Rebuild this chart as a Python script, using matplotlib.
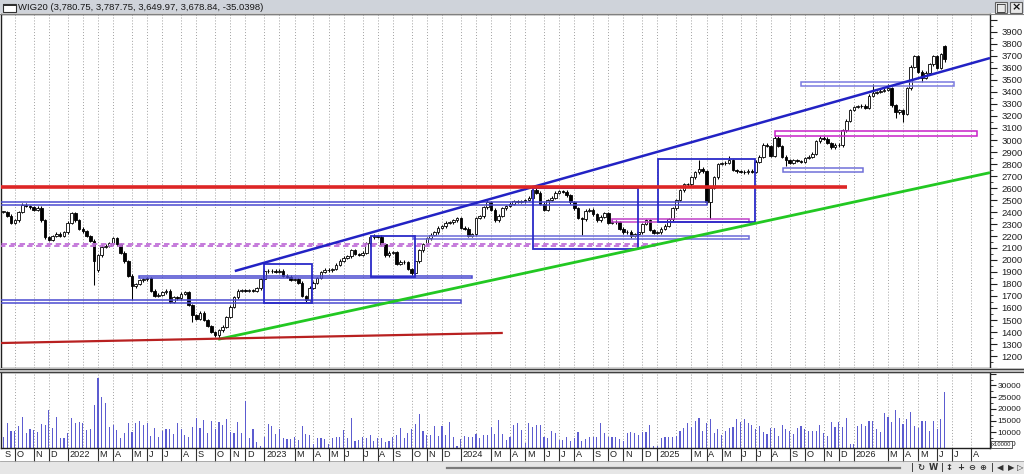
import matplotlib
matplotlib.use("Agg")
import matplotlib.pyplot as plt
import matplotlib.transforms as mtransforms
from matplotlib.patches import Rectangle
from matplotlib.lines import Line2D
from matplotlib.ticker import MultipleLocator, FuncFormatter
import numpy as np
import pandas as pd

plt.rcParams['font.family'] = ['Liberation Sans', 'DejaVu Sans']

# ---------------- data ----------------
symbol = "WIG20"
last_open, last_high, last_low, last_close, last_change = 3780.75, 3787.75, 3649.97, 3678.84, -35.0398
start_week = "2021-09-06"
end_month = "2026-08"

closes = [
    2400, 2370, 2310, 2330, 2400, 2460, 2450, 2440, 2420, 2435,
    2330, 2190, 2170, 2200, 2220, 2200, 2230, 2310, 2390, 2330,
    2260, 2240, 2200, 2160, 1990, 2040, 2110, 2120, 2140, 2180,
    2130, 2060, 1990, 1870, 1780, 1800, 1830, 1840, 1850, 1745,
    1700, 1710, 1730, 1745, 1650, 1690, 1680, 1720, 1730, 1625,
    1540, 1510, 1560, 1500, 1450, 1400, 1375, 1415, 1445, 1525,
    1610, 1690, 1745, 1750, 1745, 1750, 1745, 1765, 1840, 1910,
    1905, 1910, 1900, 1910, 1870, 1860, 1835, 1840, 1810, 1700,
    1670, 1770, 1810, 1850, 1900, 1920, 1915, 1925, 1960, 1995,
    2020, 2030, 2080, 2050, 2045, 2060, 2140, 2190, 2200, 2195,
    2130, 2040, 2060, 2065, 1970, 1985, 1980, 1925, 1890, 1990,
    2080, 2130, 2180, 2210, 2230, 2270, 2280, 2310, 2315, 2330,
    2350, 2270, 2260, 2200, 2215, 2350, 2365, 2440, 2480, 2420,
    2330, 2370, 2430, 2450, 2470, 2490, 2485, 2490, 2500, 2520,
    2580, 2560, 2470, 2420, 2500, 2520, 2560, 2575, 2570, 2540,
    2480, 2430, 2350, 2340, 2410, 2420, 2380, 2330, 2360, 2390,
    2310, 2320, 2315, 2260, 2230, 2235, 2200, 2215, 2230, 2300,
    2330, 2250, 2225, 2230, 2260, 2285, 2340, 2430, 2500, 2580,
    2630, 2630, 2690, 2730, 2760, 2740, 2480, 2600, 2690, 2800,
    2805, 2810, 2830, 2750, 2740, 2735, 2730, 2745, 2735, 2820,
    2860, 2960, 2950, 2870, 3020, 2950, 2860, 2830, 2810, 2830,
    2825, 2820, 2850, 2860, 2885, 2990, 3020, 3010, 2975, 2940,
    2960, 2955, 3080, 3160, 3250, 3275, 3280, 3285, 3270, 3370,
    3395, 3400, 3410, 3420, 3430, 3290, 3230, 3250, 3220, 3430,
    3610, 3700, 3570, 3520, 3560, 3630, 3700, 3600, 3714, last_close,
]
open_override = {25: 1920, 249: last_open}
high_override = {98: 2220, 128: 2500, 141: 2610, 184: 2830, 192: 2870,
                 230: 3470, 234: 3470, 249: last_high}
low_override = {24: 1790, 25: 1900, 34: 1670, 50: 1480, 52: 1500, 56: 1355,
                57: 1350, 80: 1650, 108: 1870, 153: 2210, 166: 2180, 187: 2345,
                207: 2780, 236: 3180, 238: 3150, 243: 3480, 249: last_low}

volumes_k = [
    7.8, 13.8, 10.7, 10.5, 12.6, 16.6, 9.8, 11.3, 11.0, 10.3,
    13.5, 12.9, 19.5, 12.0, 16.6, 7.5, 7.4, 9.8, 16.2, 14.0,
    14.3, 14.0, 11.0, 11.3, 21.6, 33.0, 24.9, 22.3, 12.4, 12.9,
    11.0, 7.7, 9.8, 14.0, 10.3, 14.0, 14.6, 13.3, 14.0, 8.5,
    11.9, 7.8, 10.5, 11.3, 11.4, 9.3, 13.8, 11.5, 8.8, 8.1,
    12.4, 16.2, 11.7, 15.2, 9.5, 14.8, 11.4, 14.2, 13.0, 15.8,
    10.3, 9.5, 14.2, 9.5, 23.5, 7.7, 11.4, 6.0, 4.2, 7.8,
    13.5, 12.6, 9.3, 11.3, 7.5, 7.1, 7.1, 8.2, 6.6, 12.6,
    9.3, 8.7, 4.8, 7.7, 7.7, 7.2, 4.8, 7.7, 8.1, 8.2,
    11.1, 7.4, 16.2, 6.3, 6.5, 7.8, 7.5, 8.8, 6.3, 7.5,
    7.5, 5.8, 6.1, 7.8, 8.7, 11.7, 7.7, 9.8, 11.5, 13.7,
    17.8, 10.5, 8.7, 8.7, 12.5, 8.5, 12.8, 8.7, 14.3, 8.1,
    4.0, 7.2, 8.5, 8.2, 7.8, 9.4, 7.4, 9.0, 9.0, 12.4,
    9.3,
    15.2, 9.2, 6.9, 8.1, 13.0, 13.8, 11.0, 5.5, 14.0, 12.4,
    12.9, 12.9, 8.1, 7.4, 10.7, 9.8, 6.5, 6.5, 7.8, 6.3,
    7.5, 10.1, 6.3, 7.1, 8.2, 7.9, 7.8, 14.0, 9.6, 8.1,
    7.8, 7.9, 7.1, 6.3, 9.5, 10.3, 9.5, 9.0, 10.3, 10.3,
    13.2, 4.2, 4.2, 7.4, 8.1, 8.1, 8.2, 8.4, 10.7, 11.7,
    14.0, 12.4, 14.8, 16.2, 10.7, 13.8, 15.5, 9.5, 11.3, 8.8,
    10.5, 11.9, 12.4, 15.5, 14.2, 15.5, 14.0, 13.3, 11.5, 12.6,
    10.1, 9.3, 11.7, 11.8, 8.4, 12.9, 11.3, 10.7, 9.3, 12.0,
    12.6, 11.5, 10.7, 10.7, 10.5, 13.3, 9.6, 8.4, 14.3, 12.4,
    14.2, 12.1, 16.0, 5.2, 5.2, 12.6, 13.5, 12.6, 14.8, 14.9,
    11.5, 10.3, 18.4, 16.6, 14.4, 19.5, 16.3, 13.5, 15.5, 18.8,
    12.6, 12.0, 14.8, 14.6, 10.5, 14.9, 11.3, 15.5, 27.0,
]

# drawn objects: (name, week0, price0, week1, price1, colour, width)
trend_lines = [
    ("upper", 61.2, 1908, 261.0, 3683, '#2222c4', 1.8),
    ("support", 56.8, 1339, 261.0, 2728, '#22c822', 2.0),
    ("old_support", -0.9, 1308, 132.1, 1392, '#b82020', 1.6),
    ("resistance", -0.9, 2607, 223.1, 2607, '#dd2525', 2.6),
]
boxes = [  # (w0, w1, p0, p1)
    (68.9, 81.7, 1639, 1967),
    (97.2, 108.9, 1856, 2200),
    (140.1, 167.8, 2092, 2597),
    (173.2, 198.8, 2314, 2842),
]
bands = [  # (w0, w1, p0, p1, color)
    (-0.9, 186.1, 2458, 2480, '#4a4ad0'),
    (-0.9, 121.0, 1640, 1667, '#4a4ad0'),
    (35.8, 124.0, 1848, 1870, '#4a4ad0'),
    (108.3, 197.2, 2175, 2203, '#6a6ad8'),
    (206.2, 227.4, 2736, 2764, '#7070d8'),
    (211.1, 251.5, 3453, 3486, '#7a7ae0'),
    (160.9, 197.2, 2314, 2339, '#c040c8'),
    (204.1, 257.5, 3033, 3077, '#c820c8'),
]
dashed_band = (-0.9, 172.9, 2116, 2133, '#c070d8')

# ---------------- derived OHLC ----------------
n = len(closes)
xs = np.arange(n)
opens = [closes[0]] + closes[:-1]
for k, v in open_override.items():
    opens[k] = v
highs = [max(o, c) + 12 for o, c in zip(opens, closes)]
lows = [min(o, c) - 12 for o, c in zip(opens, closes)]
for k, v in high_override.items():
    highs[k] = v
for k, v in low_override.items():
    lows[k] = v
opens = np.array(opens, float)
cl = np.array(closes, float)

# month marks
start = pd.Timestamp(start_week)
months = pd.period_range("2021-09", end_month, freq="M")
month_pos, month_lab = [], []
for p in months:
    d = p.to_timestamp()
    while d.weekday() >= 5:
        d += pd.Timedelta(days=1)
    idx = (d - start).days // 7
    month_pos.append(idx)
    if p.month == 1:
        month_lab.append(str(p.year))
    elif p.month == 2:
        month_lab.append("")
    else:
        month_lab.append("JFMAMJJASOND"[p.month - 1])

# ---------------- figure ----------------
W, H = 1024, 474
fig = plt.figure(figsize=(W / 100, H / 100), dpi=100)
fig.patch.set_facecolor('white')


def fx(x):
    return x / W


def fy(y):
    return 1 - y / H


ax = fig.add_axes([fx(1), fy(368), fx(990) - fx(1), fy(14) - fy(368)])
axv = fig.add_axes([fx(1), fy(448), fx(990) - fx(1), fy(372) - fy(448)], sharex=ax)

xlim = (-0.66, 261.0)
ax.set_xlim(*xlim)
ax.set_ylim(1100, 4050)
axv.set_ylim(3300, 35700)

for a in (ax, axv):
    for m in month_pos:
        a.axvline(m, color='#a0a0a0', ls=(0, (1, 2)), lw=0.7, zorder=0)
    for s in a.spines.values():
        s.set_color('#202020')
        s.set_linewidth(1.0)
    a.tick_params(axis='x', which='both', bottom=False, top=False,
                  labelbottom=False)
    a.yaxis.tick_right()

ax.tick_params(axis='y', which='major', length=5, width=0.8,
               labelsize=6.8, pad=3, colors='#202020')
ax.tick_params(axis='y', which='minor', length=2.5, width=0.6,
               colors='#202020')
axv.tick_params(axis='y', which='major', length=4, width=0.8,
                labelsize=6.1, pad=1.5, colors='#202020')
axv.tick_params(axis='y', which='minor', length=2, width=0.6,
                colors='#202020')

# price ticks
ax.yaxis.set_major_locator(MultipleLocator(100))
ax.yaxis.set_minor_locator(MultipleLocator(50))
ax.yaxis.set_major_formatter(FuncFormatter(
    lambda v, p: f"{int(round(v))}" if 1200 <= v <= 3900 else ""))

# volume ticks
axv.yaxis.set_major_locator(MultipleLocator(5000))
axv.yaxis.set_minor_locator(MultipleLocator(2500))
axv.yaxis.set_major_formatter(FuncFormatter(
    lambda v, p: f"{int(round(v))}" if 10000 <= v <= 30000 else ""))

# candles
ax.vlines(xs, lows, highs, color='black', lw=0.75, zorder=2)
body_bottom = np.minimum(opens, cl)
body_h = np.maximum(np.abs(cl - opens), 5)
face = ['white' if c >= o else 'black' for o, c in zip(opens, cl)]
ax.bar(xs, body_h, bottom=body_bottom, width=0.68, color=face,
       edgecolor='black', linewidth=0.6, zorder=3)

# drawn objects
for w0, w1, p0, p1, col in bands:
    ax.add_patch(Rectangle((w0, p0), w1 - w0, p1 - p0, fill=False,
                           edgecolor=col, lw=1.1, zorder=4))
w0, w1, p0, p1, col = dashed_band
ax.add_patch(Rectangle((w0, p0), w1 - w0, p1 - p0, fill=False,
                       edgecolor=col, lw=1.3, ls=(0, (3, 2)), zorder=4))
for w0, w1, p0, p1 in boxes:
    ax.add_patch(Rectangle((w0, p0), w1 - w0, p1 - p0, fill=False,
                           edgecolor='#2a2ac8', lw=1.3, zorder=4))
for name, w0, p0, w1, p1, col, lw in trend_lines:
    ax.plot([w0, w1], [p0, p1], color=col, lw=lw, zorder=5,
            solid_capstyle='butt')

# volume bars
vols = np.array(volumes_k) * 1000
axv.bar(xs[:len(vols)], vols, width=0.3, color='#5c5cd0', zorder=2)

# date strip
trans = mtransforms.blended_transform_factory(axv.transData, axv.transAxes)
strip_h = 13 / 76
for m, lab in zip(month_pos, month_lab):
    if lab == "" or m < xlim[0] - 1:
        continue
    if m >= xlim[0]:
        axv.add_line(Line2D([m, m], [0, -strip_h], transform=trans,
                            clip_on=False, color='#303030', lw=0.8))
    axv.text(max(m, -0.3) + 0.45, -strip_h / 2, lab, transform=trans,
             ha='left', va='center', fontsize=6.6, color='#202020',
             clip_on=False)

# ---------------- chrome ----------------
# title bar
fig.add_artist(Rectangle((0, fy(13)), 1, 13 / H, transform=fig.transFigure,
                         facecolor='#cfd3da', edgecolor='none', zorder=0))
fig.add_artist(Line2D([0, 1], [fy(13.5), fy(13.5)], transform=fig.transFigure,
                      color='#808080', lw=0.8))
fig.add_artist(Rectangle((fx(3), fy(12)), 13 / W, 8 / H, transform=fig.transFigure,
                         facecolor='white', edgecolor='#303030', lw=0.8))
fig.add_artist(Rectangle((fx(3), fy(6)), 13 / W, 2 / H, transform=fig.transFigure,
                         facecolor='#303030', edgecolor='none'))
title = (f"{symbol} ({last_open:,.2f}, {last_high:,.2f}, {last_low:,.2f}, "
         f"{last_close:,.2f}, {last_change:.4f})")
fig.text(fx(18), fy(7), title, ha='left', va='center', fontsize=6.8,
         color='#181818')
for bx, glyph in ((995, "\u25a1"), (1010, "\u00d7")):
    fig.add_artist(Rectangle((fx(bx), fy(13)), 12 / W, 11 / H,
                             transform=fig.transFigure, facecolor='#e8e8e8',
                             edgecolor='#606060', lw=0.8))
    fig.text(fx(bx + 6), fy(7.5), glyph, ha='center', va='center',
             fontsize=8, color='#101010', family='DejaVu Sans',
             weight='bold')

# separator between panels
fig.add_artist(Rectangle((0, fy(372)), 1, 4 / H, transform=fig.transFigure,
                         facecolor='#d0d0d0', edgecolor='none'))
for yy in (368.5, 371.5):
    fig.add_artist(Line2D([0, 1], [fy(yy), fy(yy)], transform=fig.transFigure,
                          color='#404040', lw=0.9))

# volume multiplier box
fig.text(fx(1011), fy(444.5), "0", ha='left', va='center', fontsize=6.1,
         color='#202020')
fig.text(fx(992), fy(444.5), "x10000", ha='left', va='center', fontsize=4.2,
         color='#202020',
         bbox=dict(boxstyle='square,pad=0.15', facecolor='white',
                   edgecolor='#404040', lw=0.6))

# bottom toolbar
fig.add_artist(Rectangle((0, 0), 1, 13 / H, transform=fig.transFigure,
                         facecolor='#e6e6e6', edgecolor='none', zorder=0))
fig.add_artist(Line2D([0, 1], [fy(461), fy(461)], transform=fig.transFigure,
                      color='#a0a0a0', lw=0.6))
fig.add_artist(Line2D([fx(447), fx(900)], [fy(467.5), fy(467.5)],
                      transform=fig.transFigure, color='#7a7a7a', lw=1.6))
icons = [(913, "|"), (921, "\u21bb"), (933, "W"), (942, "|"), (949, "\u2195"),
         (961, "+"), (972, "\u2296"), (983, "\u2295"), (992, "|"),
         (1000, "\u25c0"), (1011, "\u25b6"), (1020, "\u25b7")]
for ix, g in icons:
    fig.text(fx(ix), fy(467.5), g, ha='center', va='center', fontsize=6,
             color='#303030', family='DejaVu Sans', weight='bold')

fig.savefig("out.png", dpi=100, facecolor='white')
